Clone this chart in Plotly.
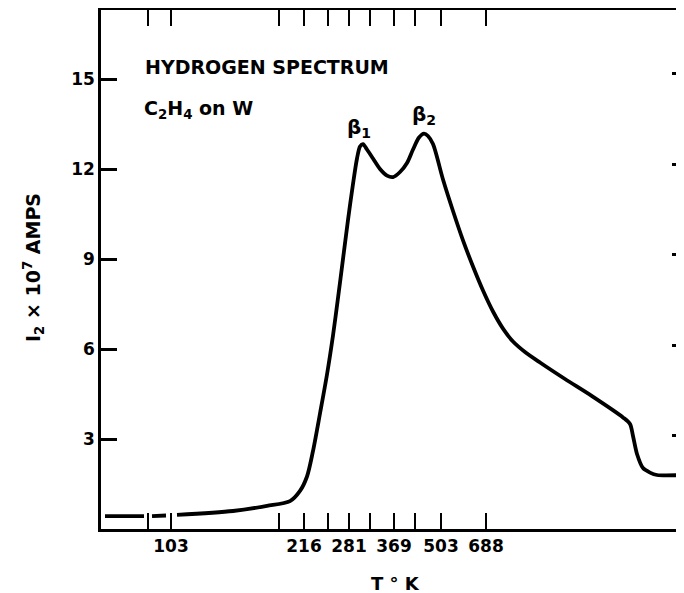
import plotly.graph_objects as go

# x axis is the (linear) sweep coordinate; temperatures are labels at fixed sweep points
sweep = [0.4, 4.3, None, 5.1, 6.5, None, 7.6, 13.2, 16.6, 18.9, 19.9, 20.6, 21.2, 21.9,
         22.6, 23.2, 23.7, 24.2, 24.7, 25.2, 25.6, 25.9, 26.2, 26.6, 27.2, 27.9, 28.6, 29.2,
         29.9, 30.6, 31.2, 31.8, 32.3, 32.7, 33.2, 34.2, 35.2, 36.2, 37.2, 38.2, 39.2, 40.2,
         41.2, 42.4, 43.9, 46.4, 49.1, 52.2, 52.9, 53.2, 53.6, 54.2, 54.9, 55.6, 58.3]
current = [0.43, 0.43, None, 0.43, 0.45, None, 0.47, 0.6, 0.77, 0.93, 1.27, 1.75, 2.6, 3.85,
           5.15, 6.45, 7.7, 9.0, 10.3, 11.5, 12.35, 12.75, 12.83, 12.65, 12.35, 12.0, 11.78, 11.73,
           11.9, 12.2, 12.65, 13.05, 13.18, 13.1, 12.83, 11.65, 10.6, 9.62, 8.75, 7.95, 7.25, 6.68,
           6.25, 5.9, 5.55, 5.0, 4.43, 3.72, 3.5, 3.1, 2.5, 2.03, 1.88, 1.8, 1.8]

tick_sweep = [4.7, 7.0, 17.8, 20.3, 22.7, 24.8, 26.9, 29.3, 31.4, 34.0, 38.5]
tick_text = ["", "103", "", "216", "", "281", "", "369", "", "503", "688"]
y_ticks = [3, 6, 9, 12, 15]

fig = go.Figure()
fig.add_trace(go.Scatter(x=sweep, y=current, mode="lines",
                         line=dict(color="black", width=3.8, shape="spline", smoothing=0.8),
                         connectgaps=False, showlegend=False, hoverinfo="skip"))
# helper trace so the right-hand tick axis is drawn
fig.add_trace(go.Scatter(x=[None], y=[None], yaxis="y2", showlegend=False, hoverinfo="skip"))

font = dict(family="DejaVu Sans", color="black", weight="bold")

fig.update_layout(
    width=676, height=585,
    margin=dict(l=93, r=0, t=2, b=64),
    paper_bgcolor="white", plot_bgcolor="white",
    xaxis=dict(range=[0, 58.3], tickvals=tick_sweep, ticktext=tick_text,
               ticks="inside", ticklen=16, tickwidth=2, tickcolor="black",
               showline=True, linewidth=2.5, linecolor="black", mirror="ticks",
               showgrid=False, zeroline=False, tickfont=dict(size=17, **font)),
    yaxis=dict(range=[0, 17.3], tickvals=y_ticks, ticks="inside", ticklen=16, tickwidth=2.5,
               tickcolor="black", showline=True, linewidth=2.5, linecolor="black",
               showgrid=False, zeroline=False, tickfont=dict(size=17, **font)),
    yaxis2=dict(range=[-0.083, 17.12], tickvals=y_ticks, overlaying="y", side="right",
                ticks="inside", ticklen=12, tickwidth=2.5, tickcolor="black",
                showticklabels=False, showline=False, showgrid=False, zeroline=False),
    annotations=[
        dict(text="HYDROGEN SPECTRUM", xref="paper", yref="paper",
             x=(143 - 101) / 583, y=(529 - 67) / 519, xanchor="left", yanchor="middle",
             showarrow=False, font=dict(size=19, **font)),
        dict(text="C<sub>2</sub>H<sub>4</sub> on W", xref="paper", yref="paper",
             x=(142 - 101) / 583, y=(529 - 110) / 519, xanchor="left", yanchor="middle",
             showarrow=False, font=dict(size=19, **font)),
        dict(text="β<sub>1</sub>", xref="paper", yref="paper",
             x=(359 - 101) / 583, y=(529 - 128) / 519, xanchor="center", yanchor="middle",
             showarrow=False, font=dict(size=20, **font)),
        dict(text="β<sub>2</sub>", xref="paper", yref="paper",
             x=(424 - 101) / 583, y=(529 - 115) / 519, xanchor="center", yanchor="middle",
             showarrow=False, font=dict(size=20, **font)),
        dict(text="I<sub>2</sub> × 10<sup>7</sup> AMPS", xref="paper", yref="paper",
             x=(33 - 101) / 583, y=(529 - 268) / 519, xanchor="center", yanchor="middle",
             textangle=-90, showarrow=False, font=dict(size=19, **font)),
        dict(text="T ° K", xref="paper", yref="paper",
             x=(395 - 101) / 583, y=(529 - 583) / 519, xanchor="center", yanchor="middle",
             showarrow=False, font=dict(size=18, **font)),
    ],
)

fig.write_html("out.html")
